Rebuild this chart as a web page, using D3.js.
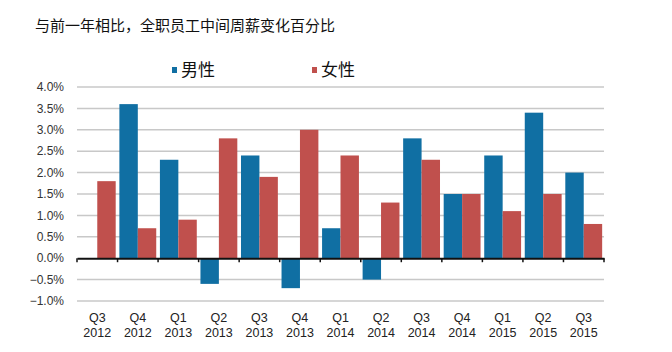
<!DOCTYPE html>
<html>
<head>
<meta charset="utf-8">
<script src="https://cdn.jsdelivr.net/npm/d3@7"></script>
<style>
  body { margin: 0; background: #fff; }
  text { font-family: "Liberation Sans", Arial, "Noto Sans CJK SC", sans-serif; }
</style>
</head>
<body>
<svg id="chart" width="672" height="352"></svg>
<script>
// data
let quarters = ['Q3', 'Q4', 'Q1', 'Q2', 'Q3', 'Q4', 'Q1', 'Q2', 'Q3', 'Q4', 'Q1', 'Q2', 'Q3'];
let years = ['2012', '2012', '2013', '2013', '2013', '2013', '2014', '2014', '2014', '2014', '2015', '2015', '2015'];
let male = [0, 3.6, 2.3, -0.6, 2.4, -0.7, 0.7, -0.5, 2.8, 1.5, 2.4, 3.4, 2.0];
let female = [1.8, 0.7, 0.9, 2.8, 1.9, 3.0, 2.4, 1.3, 2.3, 1.5, 1.1, 1.5, 0.8];
let seriesNames = ['男性', '女性'];
let yTicks = [4.0, 3.5, 3.0, 2.5, 2.0, 1.5, 1.0, 0.5, 0.0, -0.5, -1.0];
let title = '与前一年相比，全职员工中间周薪变化百分比';

let colors = ['#106fa3', '#c0504d'];
let svg = d3.select('#chart');

let cats = quarters.map(function (q, i) { return q + ' ' + years[i]; });
let x = d3.scaleBand().domain(cats).range([77, 604]).paddingInner(0).paddingOuter(0);
let x1 = d3.scaleBand().domain([0, 1]).range([0, x.bandwidth()]).paddingOuter(0.1).paddingInner(0);
let y = d3.scaleLinear().domain([-1, 4]).range([301, 87]);

// title
svg.append('text')
  .attr('x', 35).attr('y', 31)
  .attr('font-size', 15)
  .attr('fill', '#111')
  .text(title);

// legend
let legend = svg.append('g').selectAll('g')
  .data(seriesNames)
  .enter().append('g')
  .attr('transform', function (d, i) { return 'translate(' + (172 + i * 140) + ',70)'; });
legend.append('rect')
  .attr('x', 0).attr('y', -3)
  .attr('width', 5).attr('height', 6)
  .attr('fill', function (d, i) { return colors[i]; });
legend.append('text')
  .attr('x', 9).attr('dy', '0.36em')
  .attr('font-size', 17)
  .attr('fill', '#111')
  .text(function (d) { return d; });

// grid lines
svg.append('g').selectAll('line')
  .data(yTicks.filter(function (d) { return d !== 0; }))
  .enter().append('line')
  .attr('x1', 77).attr('x2', 604)
  .attr('y1', function (d) { return y(d); })
  .attr('y2', function (d) { return y(d); })
  .attr('stroke', '#c8c8c8')
  .attr('stroke-width', 1.5);

// y labels
svg.append('g').selectAll('text')
  .data(yTicks)
  .enter().append('text')
  .attr('x', 64)
  .attr('y', function (d) { return y(d); })
  .attr('dy', '0.35em')
  .attr('text-anchor', 'end')
  .attr('font-size', 12)
  .attr('fill', '#333')
  .text(function (d) { return d3.format('.1f')(d) + '%'; });

// bars
let rows = cats.map(function (c, i) { return { cat: c, vals: [male[i], female[i]] }; });
svg.append('g').selectAll('g')
  .data(rows)
  .enter().append('g')
  .attr('transform', function (d) { return 'translate(' + x(d.cat) + ',0)'; })
  .selectAll('rect')
  .data(function (d) { return d.vals.map(function (v, k) { return { k: k, v: v }; }); })
  .enter().append('rect')
  .attr('x', function (d) { return x1(d.k); })
  .attr('width', x1.bandwidth())
  .attr('y', function (d) { return y(Math.max(0, d.v)); })
  .attr('height', function (d) { return Math.abs(y(d.v) - y(0)); })
  .attr('fill', function (d) { return colors[d.k]; });

// zero axis with ticks
let axis = svg.append('g')
  .attr('transform', 'translate(0,' + y(0) + ')')
  .call(d3.axisBottom(x).tickValues([]).tickSizeOuter(0));
axis.select('.domain').attr('stroke', '#111').attr('stroke-width', 2);
axis.selectAll('.edge')
  .data(cats.concat(['end']))
  .enter().append('line')
  .attr('x1', function (d) { return d === 'end' ? 604 : x(d); })
  .attr('x2', function (d) { return d === 'end' ? 604 : x(d); })
  .attr('y1', 0).attr('y2', 4)
  .attr('stroke', '#111')
  .attr('stroke-width', 1.5);

// x labels
let xl = svg.append('g').selectAll('text')
  .data(cats)
  .enter().append('text')
  .attr('x', function (d) { return x(d) + x.bandwidth() / 2; })
  .attr('y', 322)
  .attr('text-anchor', 'middle')
  .attr('font-size', 12.5)
  .attr('fill', '#222');
xl.append('tspan')
  .attr('x', function (d) { return x(d) + x.bandwidth() / 2; })
  .text(function (d, i) { return quarters[i]; });
xl.append('tspan')
  .attr('x', function (d) { return x(d) + x.bandwidth() / 2; })
  .attr('dy', 15)
  .text(function (d, i) { return years[i]; });
</script>
</body>
</html>
